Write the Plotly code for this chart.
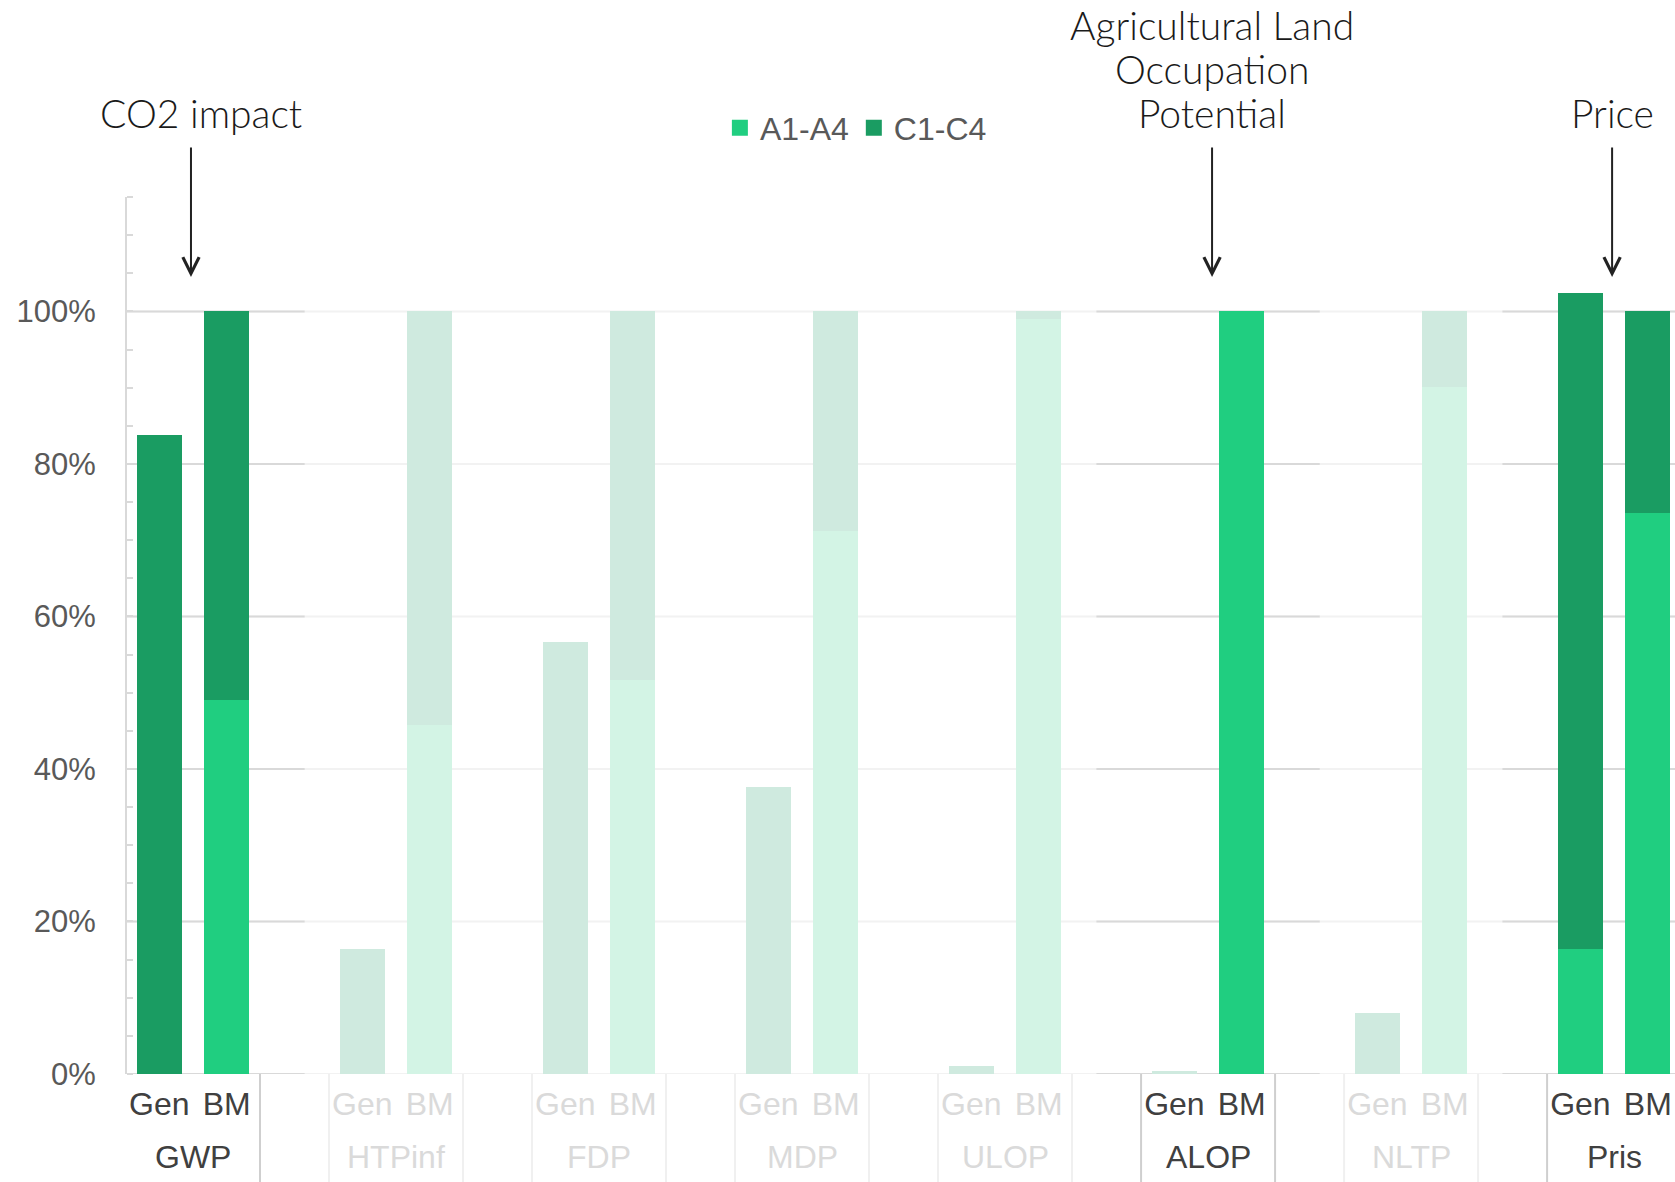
import plotly.graph_objects as go

# ---------------- data ----------------
categories = ["GWP", "HTPinf", "FDP", "MDP", "ULOP", "ALOP", "NLTP", "Pris"]
highlighted = [True, False, False, False, False, True, False, True]
sub_labels = ["Gen", "BM"]
series_names = ["A1-A4", "C1-C4"]
gen_a = [0.0, 0.0, 0.0, 0.0, 0.0, 0.0, 0.0, 16.4]
gen_c = [83.8, 16.4, 56.6, 37.7, 1.0, 0.4, 8.0, 86.0]
bm_a = [49.1, 45.7, 51.7, 71.2, 99.0, 100.0, 90.1, 73.6]
bm_c = [50.9, 54.3, 48.3, 28.8, 1.0, 0.0, 9.9, 26.4]
y_ticks = [0, 20, 40, 60, 80, 100]
y_tick_labels = ["0%", "20%", "40%", "60%", "80%", "100%"]
callouts = [("GWP", ["CO2 impact"]),
            ("ALOP", ["Agricultural Land", "Occupation", "Potential"]),
            ("Pris", ["Price"])]

# ---------------- styles ----------------
COL_A, COL_C = "#20CE80", "#1A9C62"
FADE_A, FADE_C = "#D3F4E5", "#CFEADF"
TXT_ON, TXT_OFF = "#404040", "#DADADA"
GRID_ON, GRID_OFF = "#D9D9D9", "#F2F2F2"
OFF = 0.166
BW = 0.221
XR = [-0.325, 7.30]
TICK_FONT = "Liberation Sans, Arial, sans-serif"
ANN_FONT = "Lato, Open Sans, sans-serif"
LINE_Y_BOTTOM = 1.0956
LINE_STEP = 0.0505
# pixel nudges (arrow, text) per callout
CALLOUT_SHIFT = {"GWP": (-2, 8), "ALOP": (4, 4), "Pris": (-2, -2)}

xs, a_vals, c_vals, a_cols, c_cols, tick_text = [], [], [], [], [], []
for i, cat in enumerate(categories):
    on = highlighted[i]
    for j, (av, cv) in enumerate([(gen_a[i], gen_c[i]), (bm_a[i], bm_c[i])]):
        xs.append(i + (-OFF if j == 0 else OFF))
        a_vals.append(av)
        c_vals.append(cv)
        a_cols.append(COL_A if on else FADE_A)
        c_cols.append(COL_C if (on and cv >= 1) else FADE_C)
        tick_text.append(f"<span style='color:{TXT_ON if on else TXT_OFF}'>{sub_labels[j]}</span>")

fig = go.Figure()
fig.add_trace(go.Bar(x=xs, y=a_vals, width=BW, marker=dict(color=a_cols, line=dict(width=0)),
                     name=series_names[0], showlegend=False))
fig.add_trace(go.Bar(x=xs, y=c_vals, width=BW, marker=dict(color=c_cols, line=dict(width=0)),
                     name=series_names[1], showlegend=False))
for nm, col in zip(series_names, [COL_A, COL_C]):
    fig.add_trace(go.Scatter(x=[None], y=[None], mode="markers", name=nm,
                             marker=dict(symbol="square", size=16, color=col, line=dict(width=0))))

shapes = []
for v in y_ticks:
    shapes.append(dict(type="line", xref="x", yref="y", x0=XR[0], x1=XR[1], y0=v, y1=v,
                       line=dict(color=GRID_OFF, width=2), layer="below"))
    for i, on in enumerate(highlighted):
        if on:
            shapes.append(dict(type="line", xref="x", yref="y",
                               x0=max(XR[0], i - 0.55), x1=min(XR[1], i + 0.55), y0=v, y1=v,
                               line=dict(color=GRID_ON, width=2), layer="below"))
for i, on in enumerate(highlighted):
    for s in (-0.33, 0.33):
        shapes.append(dict(type="line", xref="x", yref="paper", x0=i + s, x1=i + s, y0=0, y1=-0.13,
                           line=dict(color="#CFCFCF" if on else "#F0F0F0", width=2)))

annotations = []
for i, cat in enumerate(categories):
    annotations.append(dict(x=i, y=-0.0946, xref="x", yref="paper", text=cat, showarrow=False,
                            yanchor="middle", font=dict(family=TICK_FONT, size=32,
                                                        color=TXT_ON if highlighted[i] else TXT_OFF)))
for cat, lines in callouts:
    i = categories.index(cat)
    a_sh, t_sh = CALLOUT_SHIFT[cat]
    annotations.append(dict(x=i, y=104.5, xref="x", yref="y", text="", showarrow=True,
                            ax=0, ay=-131, xshift=a_sh, arrowhead=5, arrowsize=1.6, arrowwidth=2,
                            arrowcolor="#222222"))
    n = len(lines)
    for k, ln in enumerate(lines):
        annotations.append(dict(x=i, y=LINE_Y_BOTTOM + (n - 1 - k) * LINE_STEP, xref="x", yref="paper",
                                text=ln, showarrow=False, yanchor="middle", align="center",
                                xshift=t_sh,
                                font=dict(family=ANN_FONT, size=39, color="#1A1A1A", weight=300)))

fig.update_layout(
    width=1675, height=1182,
    margin=dict(l=127, r=0, t=197, b=108),
    paper_bgcolor="white", plot_bgcolor="white",
    barmode="relative", bargap=0,
    shapes=shapes, annotations=annotations,
    legend=dict(orientation="h", x=0.383, xanchor="left", y=1.0787, yanchor="middle",
                font=dict(family=TICK_FONT, size=32, color="#595959"),
                itemwidth=30, bgcolor="rgba(0,0,0,0)"),
    xaxis=dict(range=XR, showgrid=False, zeroline=False, showline=False,
               tickvals=xs, ticktext=tick_text, ticks="", ticklabelstandoff=8,
               tickfont=dict(family=TICK_FONT, size=32)),
    yaxis=dict(range=[0, 115], showgrid=False, zeroline=False, showline=True,
               linecolor="#D9D9D9", linewidth=2, tickvals=y_ticks, ticktext=y_tick_labels,
               ticks="", ticklabelstandoff=23,
               tickfont=dict(family=TICK_FONT, size=31, color="#595959"),
               minor=dict(ticks="inside", dtick=5, ticklen=6, tickcolor="#D9D9D9", tickwidth=2,
                          showgrid=False)),
)

fig.write_html("out.html")
